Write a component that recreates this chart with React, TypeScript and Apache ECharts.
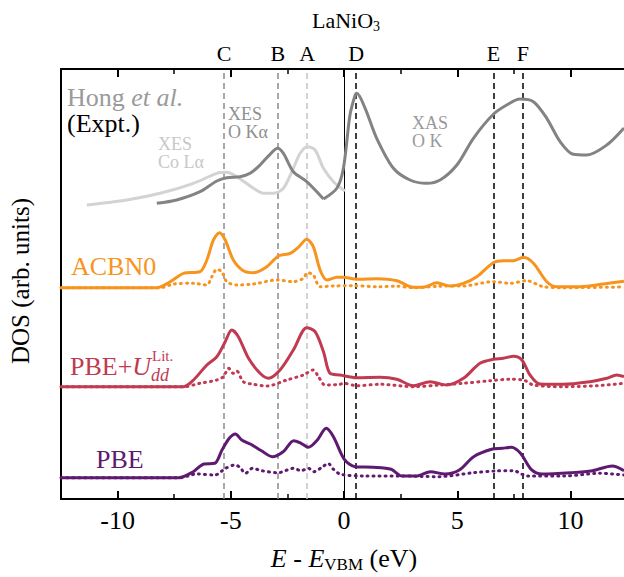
import { useEffect, useRef } from "react";
import * as echarts from "echarts";

// ---- axes ----
const X_MIN = -12.5;
const X_MAX = 12.36;
const Y_MIN = 0;
const Y_MAX = 43;
const xTicks = [-10, -5, 0, 5, 10];
const xMinorTicks = [-7.5, -2.5, 2.5, 7.5];

// ---- reference energies (dashed lines) ----
const refLabels = ["C", "B", "A", "D", "E", "F"];
const refEnergies = [-5.3, -2.92, -1.63, 0.53, 6.6, 7.9];

// ---- baselines (offsets of stacked curves, arb. units) ----
const EXPT_BASE = 29.0;
const ACBN0_BASE = 21.13;
const PBEU_BASE = 11.23;
const PBE_BASE = 2.13;

// ---- experiment (Hong et al.) ----
const xesCoLa = [
  [-11.36, 0.4], [-9.59, 0.9], [-8.12, 1.57], [-6.65, 2.57], [-5.62, 3.57], [-5.18, 3.67],
  [-4.74, 3.23], [-4.0, 2.07], [-3.56, 1.57], [-3.12, 1.57], [-2.68, 2.07], [-2.24, 4.07],
  [-1.94, 5.57], [-1.62, 6.23], [-1.28, 5.9], [-0.91, 4.07], [-0.47, 2.73], [0.04, 1.8],
];
const xesOKa = [
  [-8.27, 0.57], [-7.39, 0.9], [-6.36, 1.73], [-5.62, 2.8], [-5.18, 3.13], [-4.59, 3.23],
  [-4.15, 3.57], [-3.71, 4.4], [-3.27, 5.47], [-2.94, 6.07], [-2.68, 5.57], [-2.24, 3.73],
  [-1.65, 2.73], [-0.91, 1.0],
];
const xasOK = [
  [-0.91, 1.0], [-0.32, 2.07], [-0.03, 4.07], [0.26, 9.4], [0.49, 11.4], [0.56, 11.57],
  [0.93, 10.07], [1.44, 7.07], [2.18, 4.07], [2.91, 2.9], [3.65, 2.57], [4.24, 2.9],
  [4.98, 4.4], [5.71, 7.07], [6.59, 9.47], [7.18, 10.4], [7.77, 11.0], [8.36, 10.73],
  [8.95, 9.07], [9.54, 6.73], [10.12, 5.47], [10.72, 5.4], [11.6, 6.4], [12.36, 8.1],
];

// ---- ACBN0 ----
const acbn0Total = [
  [-12.5, 0], [-8.27, 0], [-7.68, 0.6], [-7.09, 1.43], [-6.36, 1.6], [-6.06, 2.77], [-5.77, 4.77],
  [-5.5, 5.5], [-5.25, 4.77], [-4.89, 2.77], [-4.45, 1.7], [-4.0, 1.5], [-3.41, 2.1], [-2.9, 3.17],
  [-2.38, 3.44], [-2.02, 4.04], [-1.65, 4.84], [-1.36, 4.1], [-1.06, 1.77], [-0.76, 0.77],
  [-0.32, 1.04], [-0.03, 1.04], [0.56, 0.84], [1.44, 0.9], [2.33, 0.7], [3.06, 0.04], [3.5, 0.04],
  [4.09, 0.5], [4.68, 0.17], [5.27, 0.44], [5.86, 1.1], [6.59, 2.5], [7.03, 2.7], [7.48, 2.7],
  [7.92, 3.04], [8.36, 2.44], [8.95, 0.6], [9.39, 0.1], [10.42, 0.1], [11.45, 0.37], [12.36, 0.64],
];
const acbn0Partial = [
  [-12.5, 0], [-8.12, 0], [-7.53, 0.37], [-6.65, 0.44], [-6.06, 0.27], [-5.84, 1.1], [-5.62, 1.84],
  [-5.4, 1.6], [-5.18, 0.6], [-4.74, 0.27], [-4.0, 0.37], [-2.97, 0.77], [-2.24, 0.6], [-1.8, 0.94],
  [-1.62, 1.5], [-1.36, 1.27], [-1.06, 0.1], [-0.47, 0.17], [0.41, 0.2], [1.5, 0.1], [2.33, 0.15],
  [3.06, 0], [4.2, 0.15], [5.27, 0.17], [6.59, 0.6], [7.33, 0.44], [8.06, 0.7], [8.8, 0.1],
  [9.68, 0], [12.36, 0.07],
];

// ---- PBE+U ----
const pbeuTotal = [
  [-12.5, 0], [-7.09, 0], [-6.65, 0.67], [-6.06, 2.17], [-5.62, 3.0], [-5.25, 4.5], [-4.96, 5.67],
  [-4.67, 5.0], [-4.22, 2.84], [-3.71, 1.34], [-3.34, 0.84], [-2.83, 1.67], [-2.24, 3.67],
  [-1.65, 5.9], [-1.28, 5.5], [-0.91, 3.5], [-0.62, 1.34], [-0.18, 1.17], [0.56, 0.9], [1.59, 0.94],
  [2.33, 0.74], [3.06, 0.1], [3.8, 0.5], [4.53, 0.17], [5.27, 0.84], [6.0, 2.34], [6.59, 2.74],
  [7.03, 2.84], [7.48, 3.04], [7.85, 2.67], [8.21, 1.17], [8.65, 0.27], [9.68, 0.24], [10.86, 0.5],
  [11.6, 0.84], [12.04, 1.17], [12.36, 1.0],
];
const pbeuPartial = [
  [-12.5, 0], [-7.09, 0], [-6.36, 0.34], [-5.62, 0.67], [-5.33, 1.0], [-5.1, 1.84], [-4.89, 1.34],
  [-4.74, 1.57], [-4.45, 0.5], [-4.0, 0.24], [-3.41, 0.07], [-2.53, 0.67], [-1.8, 1.17],
  [-1.36, 1.67], [-1.13, 1.0], [-0.84, 0.17], [-0.18, 0.24], [-0.03, 0.34], [0.56, 0.1],
  [1.59, 0.24], [3.06, 0], [4.24, 0.17], [5.27, 0.34], [6.45, 0.6], [7.33, 0.74], [7.92, 0.67],
  [8.36, 0.17], [9.68, 0], [11.16, 0.1], [12.36, 0.34],
];

// ---- PBE ----
const pbeTotal = [
  [-12.5, 0], [-7.3, 0], [-6.66, 0.6], [-6.19, 1.37], [-5.71, 1.44], [-5.39, 2.77], [-5.07, 3.94],
  [-4.8, 4.37], [-4.52, 3.77], [-4.12, 3.34], [-3.65, 2.7], [-3.17, 2.1], [-2.69, 2.6], [-2.22, 3.7],
  [-1.9, 3.44], [-1.58, 3.04], [-1.18, 3.77], [-0.79, 4.94], [-0.47, 4.1], [0.01, 1.84], [0.49, 1.1],
  [1.28, 1.04], [2.08, 0.84], [2.55, 0.17], [3.18, 0.17], [3.82, 0.6], [4.45, 0.37], [5.09, 0.77],
  [5.72, 2.1], [6.51, 2.84], [6.99, 2.94], [7.39, 3.04], [7.79, 2.44], [8.26, 0.84], [8.74, 0.37],
  [10.01, 0.5], [10.97, 0.7], [11.84, 1.17], [12.36, 0.7],
];
const pbePartial = [
  [-12.5, 0], [-7.26, 0], [-6.5, 0.37], [-5.71, 0.27], [-5.23, 0.94], [-4.83, 1.27], [-4.6, 1.04],
  [-4.36, 0.44], [-4.04, 0.94], [-3.65, 0.7], [-2.93, 0.5], [-2.22, 0.94], [-1.9, 0.7],
  [-1.58, 0.94], [-1.34, 0.6], [-0.94, 1.1], [-0.71, 1.44], [-0.47, 0.84], [-0.15, 0.34],
  [0.96, 0.17], [2.55, 0.17], [4.14, 0.1], [5.72, 0.5], [6.67, 0.67], [7.47, 0.7], [8.1, 0.17],
  [9.69, 0.17], [11.29, 0.44], [12.36, 0.27],
];

const FONT = "Liberation Serif";
const ORANGE = "#F7941D";
const CRIMSON = "#C03A51";
const PURPLE = "#5E1A70";
const refColors = ["#8c8c8c", "#8c8c8c", "#c4c4c4", "#000", "#000", "#000"];

function lineSeries(data: number[][], base: number, color: string, dotted: boolean, extra: any = {}) {
  return {
    type: "line",
    data: data.map(([x, y]) => [x, y + base]),
    symbol: "none",
    showSymbol: false,
    smooth: 0.3,
    silent: true,
    clip: true,
    z: dotted ? 2 : 3,
    lineStyle: {
      color,
      width: 3,
      type: dotted ? [1, 5] : "solid",
      cap: dotted ? "round" : "butt",
      join: "round",
    },
    ...extra,
  };
}

function txt(x: number, y: number, size: number, fill: string, text: string, extraStyle: any = {}, extra: any = {}) {
  return {
    type: "text",
    x,
    y,
    ...extra,
    style: {
      text,
      fontFamily: FONT,
      fontSize: size,
      fill,
      align: "left",
      verticalAlign: "middle",
      ...extraStyle,
    },
  };
}

export default function App() {
  const ref = useRef<HTMLDivElement>(null);
  useEffect(() => {
    if (!ref.current) return;
    const chart = echarts.init(ref.current, undefined, { renderer: "svg" });
    const axisCommon = {
      type: "value",
      min: X_MIN,
      max: X_MAX,
      splitLine: { show: false },
    };
    const option: any = {
      animation: false,
      textStyle: { fontFamily: FONT },
      grid: { left: 61, right: 0, top: 69, bottom: 78, containLabel: false },
      xAxis: [
        {
          ...axisCommon,
          position: "bottom",
          axisLine: { show: true, onZero: false, lineStyle: { color: "#000", width: 2 } },
          axisTick: { show: true, inside: true, length: 8, customValues: xTicks, lineStyle: { color: "#000", width: 2 } },
          axisLabel: { show: true, customValues: xTicks, margin: 8, fontFamily: FONT, fontSize: 26, color: "#000", formatter: (v: number) => String(v) },
        },
        {
          ...axisCommon,
          position: "bottom",
          axisLine: { show: false, onZero: false },
          axisTick: { show: true, inside: true, length: 5, customValues: xMinorTicks, lineStyle: { color: "#000", width: 1.5 } },
          axisLabel: { show: false },
        },
        {
          ...axisCommon,
          position: "top",
          axisLine: { show: true, onZero: false, lineStyle: { color: "#000", width: 2 } },
          axisTick: { show: true, inside: true, length: 8, customValues: xTicks, lineStyle: { color: "#000", width: 2 } },
          axisLabel: { show: false },
        },
        {
          ...axisCommon,
          position: "top",
          axisLine: { show: false, onZero: false },
          axisTick: { show: true, inside: true, length: 5, customValues: xMinorTicks, lineStyle: { color: "#000", width: 1.5 } },
          axisLabel: { show: false },
        },
      ],
      yAxis: {
        type: "value",
        min: Y_MIN,
        max: Y_MAX,
        axisLine: { show: true, onZero: false, lineStyle: { color: "#000", width: 2 } },
        axisTick: { show: false },
        axisLabel: { show: false },
        splitLine: { show: false },
      },
      series: [
        lineSeries(xesCoLa, EXPT_BASE, "#d3d3d3", false),
        lineSeries(xesOKa, EXPT_BASE, "#838383", false),
        lineSeries(xasOK, EXPT_BASE, "#838383", false),
        lineSeries(acbn0Partial, ACBN0_BASE, ORANGE, true),
        lineSeries(acbn0Total, ACBN0_BASE, ORANGE, false),
        lineSeries(pbeuPartial, PBEU_BASE, CRIMSON, true),
        lineSeries(pbeuTotal, PBEU_BASE, CRIMSON, false),
        lineSeries(pbePartial, PBE_BASE, PURPLE, true),
        lineSeries(pbeTotal, PBE_BASE, PURPLE, false, {
          markLine: {
            silent: true,
            symbol: ["none", "none"],
            animation: false,
            z: 1,
            data: [
              ...refEnergies.map((e, i) => ({
                xAxis: e,
                lineStyle: { color: refColors[i], type: [6, 4], width: 1.5 },
                label: {
                  show: true,
                  position: "end",
                  distance: 5,
                  formatter: refLabels[i],
                  fontFamily: FONT,
                  fontSize: 22,
                  color: "#000",
                },
              })),
              {
                xAxis: 0,
                lineStyle: { color: "#000", type: "solid", width: 1 },
                label: { show: false },
              },
            ],
          },
        }),
      ],
      graphic: [
        {
          type: "text",
          x: 346,
          y: 20,
          style: {
            text: "{n|LaNiO}{s|3}",
            align: "center",
            verticalAlign: "middle",
            rich: {
              n: { fontFamily: FONT, fontSize: 22, fill: "#000", lineHeight: 26, verticalAlign: "middle" },
              s: { fontFamily: FONT, fontSize: 14, fill: "#000", lineHeight: 14, verticalAlign: "bottom" },
            },
          },
        },
        {
          type: "text",
          x: 67,
          y: 97,
          style: {
            text: "{n|Hong }{i|et al.}",
            align: "left",
            verticalAlign: "middle",
            rich: {
              n: { fontFamily: FONT, fontSize: 26, fill: "#9a9a9a", lineHeight: 25 },
              i: { fontFamily: FONT, fontSize: 26, fill: "#9a9a9a", fontStyle: "italic", lineHeight: 25 },
            },
          },
        },
        txt(67, 123, 26, "#000", "(Expt.)", { lineHeight: 25 }),
        txt(228, 114, 18, "#8f8f8f", "XES", { lineHeight: 16 }),
        txt(228, 132, 18, "#8f8f8f", "O Kα", { lineHeight: 16 }),
        txt(158, 144, 18, "#c8c8c8", "XES", { lineHeight: 16 }),
        txt(158, 162, 18, "#c8c8c8", "Co Lα", { lineHeight: 16 }),
        txt(412, 123, 18, "#9a9a9a", "XAS", { lineHeight: 16 }),
        txt(412, 141, 18, "#9a9a9a", "O K", { lineHeight: 16 }),
        txt(71, 266, 26, ORANGE, "ACBN0"),
        {
          type: "text",
          x: 70,
          y: 366,
          style: {
            text: "{n|PBE+}{i|U}",
            align: "left",
            verticalAlign: "middle",
            rich: {
              n: { fontFamily: FONT, fontSize: 26, fill: CRIMSON, lineHeight: 22 },
              i: { fontFamily: FONT, fontSize: 26, fill: CRIMSON, fontStyle: "italic", lineHeight: 22 },
            },
          },
        },
        txt(152, 356, 15, CRIMSON, "Lit.", { lineHeight: 12 }),
        txt(151, 375, 18, CRIMSON, "dd", { fontStyle: "italic", lineHeight: 15 }),
        txt(96, 459, 26, PURPLE, "PBE"),
        txt(20, 281, 25, "#000", "DOS (arb. units)", { align: "center" }, { rotation: Math.PI / 2 }),
        {
          type: "text",
          x: 344,
          y: 558,
          style: {
            text: "{i|E}{n| - }{i|E}{s|VBM}{n| (eV)}",
            align: "center",
            verticalAlign: "middle",
            rich: {
              n: { fontFamily: FONT, fontSize: 26, fill: "#000", lineHeight: 30, verticalAlign: "middle" },
              i: { fontFamily: FONT, fontSize: 26, fill: "#000", fontStyle: "italic", lineHeight: 30, verticalAlign: "middle" },
              s: { fontFamily: FONT, fontSize: 17, fill: "#000", lineHeight: 16, verticalAlign: "bottom" },
            },
          },
        },
      ],
    };
    chart.setOption(option);
    return () => chart.dispose();
  }, []);
  return <div ref={ref} style={{ width: 624, height: 577, position: "absolute", left: 0, top: 0 }} />;
}
